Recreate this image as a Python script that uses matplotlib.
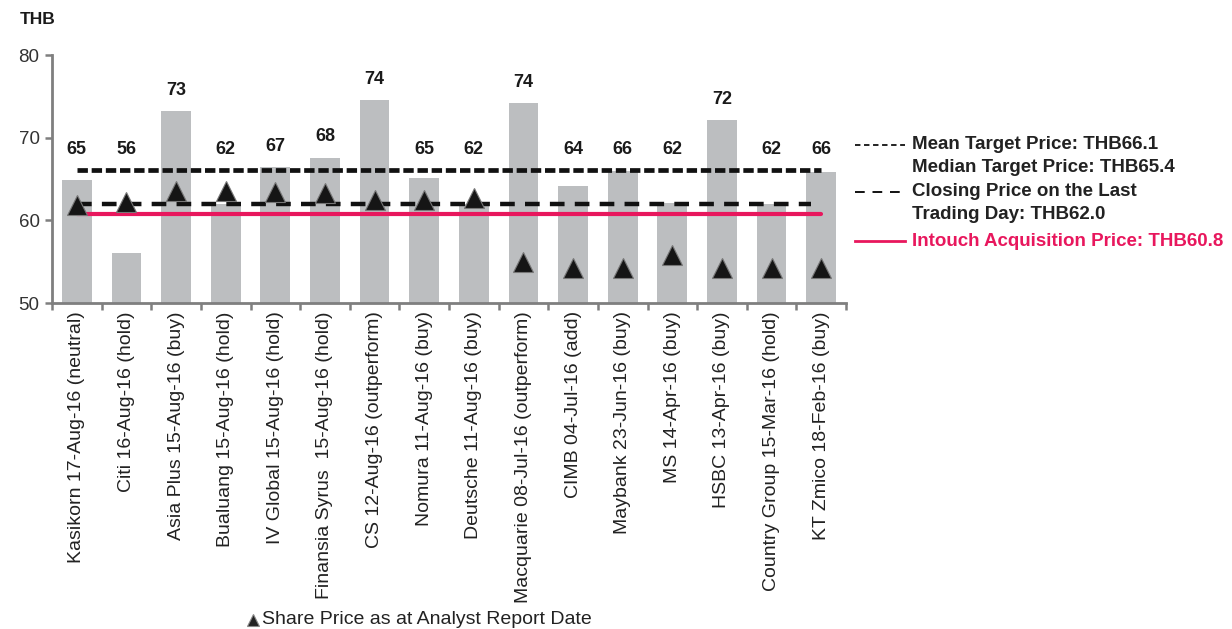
import matplotlib
matplotlib.use('Agg')
import matplotlib.pyplot as plt
from matplotlib.lines import Line2D
import numpy as np

plt.rcParams['font.family'] = ['Liberation Sans', 'DejaVu Sans']

categories = [
    "Kasikorn 17-Aug-16 (neutral)", "Citi 16-Aug-16 (hold)", "Asia Plus 15-Aug-16 (buy)",
    "Bualuang 15-Aug-16 (hold)", "IV Global 15-Aug-16 (hold)", "Finansia Syrus  15-Aug-16 (hold)",
    "CS 12-Aug-16 (outperform)", "Nomura 11-Aug-16 (buy)", "Deutsche 11-Aug-16 (buy)",
    "Macquarie 08-Jul-16 (outperform)", "CIMB 04-Jul-16 (add)", "Maybank 23-Jun-16 (buy)",
    "MS 14-Apr-16 (buy)", "HSBC 13-Apr-16 (buy)", "Country Group 15-Mar-16 (hold)",
    "KT Zmico 18-Feb-16 (buy)",
]
target_prices = [64.9, 56.0, 73.2, 62.0, 66.4, 67.6, 74.5, 65.1, 62.0, 74.2, 64.1, 66.0, 62.1, 72.1, 62.0, 65.8]
target_labels = ["65", "56", "73", "62", "67", "68", "74", "65", "62", "74", "64", "66", "62", "72", "62", "66"]
share_prices = [61.9, 62.2, 63.5, 63.6, 63.4, 63.3, 62.5, 62.5, 62.7, 55.0, 54.2, 54.2, 55.8, 54.2, 54.2, 54.2]
mean_target = 66.1
median_target = 65.4
closing_price = 62.0
acquisition_price = 60.8
y_ticks = [50, 60, 70, 80]

W, H = 1232, 629
fig = plt.figure(figsize=(W / 100, H / 100), dpi=100)
ax = fig.add_axes([52 / W, 1 - 303 / H, (846 - 52) / W, (303 - 55) / H])

def px(x, y):
    return (x / W, 1 - y / H)

n = len(categories)
x = np.arange(n)
red = '#E8175D'
axis_gray = '#7f7f7f'

ax.bar(x, [v - 50 for v in target_prices], bottom=50, width=0.6, color='#BCBEC0', zorder=1)

ax.plot([x[0], x[-1]], [mean_target, mean_target], color='#111111', lw=3.4,
        linestyle=(0, (2.2, 0.8)), zorder=3)
ax.plot([x[0], x[-1] - 0.2], [closing_price, closing_price], color='#111111', lw=3.2,
        linestyle=(0, (3.3, 2.3)), zorder=3)
ax.plot([x[0], x[-1]], [acquisition_price, acquisition_price], color=red, lw=3.0,
        solid_capstyle='round', zorder=3)

ax.plot(x, share_prices, linestyle='none', marker='^', markersize=14,
        markerfacecolor='#151515', markeredgecolor='#777777', markeredgewidth=0.8, zorder=4)

for xi, v, lab in zip(x, target_prices, target_labels):
    ax.text(xi, max(v, mean_target) + 2.5, lab, ha='center', va='center',
            fontsize=13, fontweight='bold', color='#1a1a1a', zorder=5)

ax.set_xlim(-0.5, n - 0.5)
ax.set_ylim(50, 80)
ax.set_yticks(y_ticks)
ax.set_yticklabels([str(t) for t in y_ticks], fontsize=13.5, color='#333333')
ax.set_xticks(x)
ax.set_xticklabels(categories, rotation=90, fontsize=14, color='#222222', ha='center', va='top')
ax.set_xticks(np.arange(n + 1) - 0.5, minor=True)
ax.tick_params(axis='x', which='major', length=0, pad=6)
ax.tick_params(axis='x', which='minor', length=5, width=1.8, color=axis_gray)
ax.tick_params(axis='y', length=5, width=1.8, color=axis_gray, pad=4)
for s in ['top', 'right']:
    ax.spines[s].set_visible(False)
for s in ['left', 'bottom']:
    ax.spines[s].set_color(axis_gray)
    ax.spines[s].set_linewidth(2)

fig.text(*px(20, 19), "THB", fontsize=12.5, fontweight='bold', color='#1a1a1a', va='center', ha='left')

# Legend (right)
fig.add_artist(Line2D([855 / W, 905 / W], [1 - 145 / H] * 2, color='#111111', lw=1.3,
                      linestyle=(0, (3, 2))))
fig.add_artist(Line2D([855 / W, 905 / W], [1 - 192 / H] * 2, color='#111111', lw=1.4,
                      linestyle=(0, (5, 4))))
fig.add_artist(Line2D([855 / W, 905 / W], [1 - 241 / H] * 2, color=red, lw=2.0))
leg_kw = dict(fontsize=13.5, fontweight='bold', va='center', ha='left')
fig.text(*px(912, 145), "Mean Target Price: THB%.1f" % mean_target, color='#222222', **leg_kw)
fig.text(*px(912, 167), "Median Target Price: THB%.1f" % median_target, color='#222222', **leg_kw)
fig.text(*px(912, 192), "Closing Price on the Last", color='#222222', **leg_kw)
fig.text(*px(912, 214), "Trading Day: THB%.1f" % closing_price, color='#222222', **leg_kw)
fig.text(*px(912, 241), "Intouch Acquisition Price: THB%.1f" % acquisition_price, color=red, **leg_kw)

# Legend (bottom)
fig.add_artist(Line2D([253 / W], [1 - 620 / H], marker='^', markersize=8, linestyle='none',
                      markerfacecolor='#222222', markeredgecolor='#888888', markeredgewidth=0.8))
fig.text(*px(262, 620), "Share Price as at Analyst Report Date", fontsize=14, color='#222222',
         va='center', ha='left')

fig.savefig('out.png', dpi=100)
